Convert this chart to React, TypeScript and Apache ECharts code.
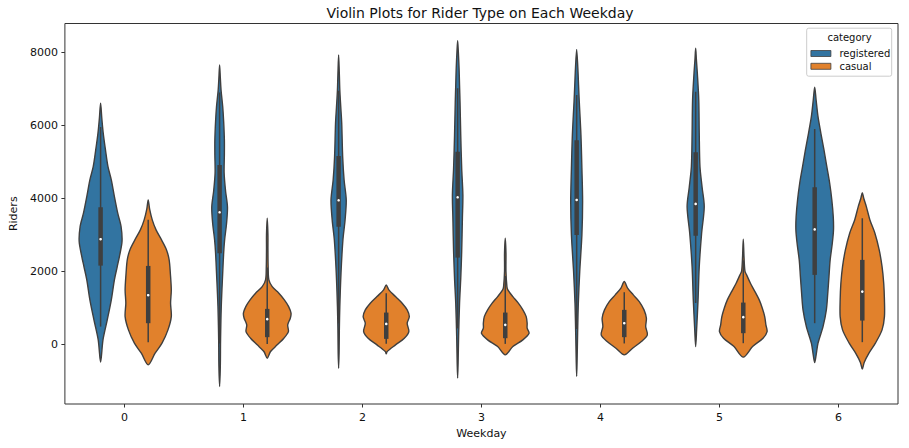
import { useEffect, useRef } from 'react'
import * as echarts from 'echarts'

const WEEKDAYS = ['0', '1', '2', '3', '4', '5', '6']
const Y_TICKS = [0, 2000, 4000, 6000, 8000]

// violin outlines: rider values and relative half widths (1 = widest violin)
const REG_Y = [
  [-493, 118, 666, 1214, 1762, 2127, 2401, 2812, 3225, 3590, 4047, 4504, 4866, 5300, 5786, 6200, 6603],
  [-1161, -600, 130, 1040, 1953, 2500, 2857, 3300, 3760, 4200, 4693, 5200, 5597, 6100, 6510, 6967, 7300, 7652],
  [-658, -200, 400, 1030, 1953, 2857, 3400, 3953, 4500, 5140, 6055, 6500, 6967, 7400, 7926],
  [-932, -500, 200, 1123, 1800, 2537, 3452, 4090, 4822, 5734, 6647, 7100, 7562, 8000, 8318],
  [-887, -400, 300, 1123, 2000, 2995, 3907, 4822, 5734, 6647, 7100, 7562, 8082],
  [-66, 400, 1214, 2126, 3041, 3770, 4300, 4866, 5781, 6693, 7425, 7800, 8110],
  [-504, -300, 27, 482, 940, 1397, 1852, 2310, 2767, 3132, 3496, 3953, 4411, 4866, 5323, 5781, 6236, 6693, 7041],
]
const REG_W = [
  [0, 0.1, 0.28, 0.45, 0.58, 0.7, 0.79, 0.9, 0.86, 0.72, 0.58, 0.45, 0.31, 0.21, 0.11, 0.05, 0],
  [0, 0.03, 0.04, 0.07, 0.13, 0.17, 0.21, 0.29, 0.33, 0.25, 0.19, 0.2, 0.2, 0.17, 0.13, 0.06, 0.03, 0],
  [0, 0.02, 0.03, 0.05, 0.1, 0.18, 0.27, 0.32, 0.23, 0.17, 0.13, 0.09, 0.05, 0.03, 0],
  [0, 0.02, 0.04, 0.08, 0.13, 0.17, 0.2, 0.22, 0.17, 0.13, 0.1, 0.08, 0.06, 0.03, 0],
  [0, 0.02, 0.04, 0.07, 0.13, 0.22, 0.25, 0.22, 0.18, 0.11, 0.08, 0.05, 0],
  [0, 0.04, 0.1, 0.15, 0.25, 0.36, 0.27, 0.18, 0.15, 0.13, 0.07, 0.03, 0],
  [0, 0.06, 0.14, 0.35, 0.49, 0.55, 0.6, 0.65, 0.74, 0.79, 0.78, 0.72, 0.63, 0.51, 0.39, 0.26, 0.14, 0.06, 0],
]
const CAS_Y = [
  [-567, -247, 27, 392, 756, 1123, 1488, 1945, 2310, 2584, 2858, 3132, 3406, 3700, 3954],
  [-384, -202, -19, 164, 345, 529, 712, 849, 1030, 1214, 1397, 1578, 1762, 2100, 2600, 3000, 3452],
  [-266, -202, -19, 164, 345, 575, 756, 940, 1123, 1304, 1488, 1625],
  [-293, -66, 118, 301, 438, 575, 756, 940, 1123, 1304, 1488, 1578, 2000, 2500, 2904],
  [-293, -110, 71, 255, 482, 712, 940, 1168, 1351, 1534, 1716],
  [-356, -66, 164, 345, 529, 756, 986, 1214, 1441, 1671, 1899, 2000, 2400, 2877],
  [-685, -500, -247, 27, 392, 756, 1214, 1671, 2126, 2584, 3041, 3405, 3770, 4000, 4153],
]
const CAS_W = [
  [0, 0.29, 0.58, 0.83, 0.97, 0.94, 0.97, 0.93, 0.88, 0.77, 0.56, 0.33, 0.17, 0.06, 0],
  [0, 0.14, 0.42, 0.7, 0.89, 0.86, 0.97, 1, 0.9, 0.72, 0.49, 0.21, 0.07, 0.04, 0.03, 0.03, 0],
  [0, 0.04, 0.39, 0.76, 0.95, 0.88, 0.97, 0.88, 0.67, 0.39, 0.11, 0],
  [0, 0.32, 0.74, 1, 0.92, 0.92, 0.88, 0.74, 0.55, 0.32, 0.11, 0.07, 0.03, 0.03, 0],
  [0, 0.35, 0.72, 0.97, 0.9, 0.93, 0.83, 0.63, 0.38, 0.14, 0],
  [0, 0.39, 0.83, 1, 0.95, 0.9, 0.8, 0.67, 0.49, 0.3, 0.14, 0.07, 0.03, 0],
  [0, 0.08, 0.28, 0.55, 0.83, 0.93, 0.93, 0.9, 0.83, 0.71, 0.53, 0.32, 0.17, 0.06, 0],
]

// inner box: whisker ends, quartiles and median
const REG_LO = [482, 20, 570, 432, 416, 1129, 575]
const REG_Q1 = [2153, 2493, 3222, 2373, 2995, 2975, 1899]
const REG_MED = [2877, 3616, 3945, 4027, 3953, 3844, 3145]
const REG_Q3 = [3753, 4912, 5159, 5277, 5589, 5260, 4301]
const REG_HI = [5950, 6900, 6946, 7014, 6830, 6917, 5900]

const CAS_LO = [55, 8, 9, 8, 20, 27, 55]
const CAS_Q1 = [575, 192, 145, 164, 192, 301, 647]
const CAS_MED = [1342, 685, 556, 529, 575, 740, 1441]
const CAS_Q3 = [2145, 967, 866, 866, 940, 1140, 2310]
const CAS_HI = [3410, 2100, 1397, 1870, 1424, 2300, 3452]

const BLUE = '#3274a1'
const ORANGE = '#e1812c'
const GRAY = '#3f3f3f'
const FONT = 'DejaVu Sans, sans-serif'

function violinRenderer(
  ys: number[][],
  ws: number[][],
  lo: number[],
  q1: number[],
  med: number[],
  q3: number[],
  hi: number[],
  offset: number,
  color: string,
) {
  return (_params: any, api: any) => {
    const i = api.value(0) as number
    const band = api.size([1, 0])[0] as number
    const cx = api.coord([i, 0])[0] + offset * band
    const maxHalf = 0.2 * band
    const yOf = (v: number) => api.coord([i, v])[1] as number

    const left: number[][] = []
    const right: number[][] = []
    ys[i].forEach((v, k) => {
      const y = yOf(v)
      left.push([cx - ws[i][k] * maxHalf, y])
      right.push([cx + ws[i][k] * maxHalf, y])
    })
    const points = left.concat(right.reverse().slice(1, -1))

    const yq1 = yOf(q1[i])
    const yq3 = yOf(q3[i])

    return {
      type: 'group',
      children: [
        {
          type: 'polygon',
          shape: { points, smooth: 0.3 },
          style: { fill: color, stroke: GRAY, lineWidth: 1.4 },
        },
        {
          type: 'line',
          shape: { x1: cx, y1: yOf(hi[i]), x2: cx, y2: yOf(lo[i]) },
          style: { stroke: GRAY, lineWidth: 1.5 },
        },
        {
          type: 'rect',
          shape: { x: cx - 2.25, y: yq3, width: 4.5, height: yq1 - yq3 },
          style: { fill: GRAY },
        },
        {
          type: 'circle',
          shape: { cx, cy: yOf(med[i]), r: 1.3 },
          style: { fill: '#ffffff' },
        },
      ],
    }
  }
}

export default function App() {
  const chartRef = useRef<HTMLDivElement>(null)

  useEffect(() => {
    if (!chartRef.current) return
    document.body.style.margin = '0'

    const chart = echarts.init(chartRef.current, undefined, { renderer: 'svg' })

    const option: echarts.EChartsOption = {
      animation: false,
      backgroundColor: '#ffffff',
      grid: {
        show: true,
        left: 61.5,
        right: 11,
        top: 23.5,
        bottom: 44,
        borderColor: '#333333',
        borderWidth: 1,
        backgroundColor: 'transparent',
      },
      graphic: [
        {
          type: 'text',
          x: 480,
          y: 12.5,
          style: {
            text: 'Violin Plots for Rider Type on Each Weekday',
            fill: '#111111',
            font: `14px ${FONT}`,
            align: 'center',
            verticalAlign: 'middle',
          },
        },
        {
          type: 'rect',
          z: 3,
          shape: { x: 806.7, y: 28.2, width: 85, height: 48, r: 2 },
          style: { fill: 'rgba(255,255,255,0.8)', stroke: '#cccccc', lineWidth: 1 },
        },
        {
          type: 'text',
          z: 4,
          x: 849.5,
          y: 37.5,
          style: {
            text: 'category',
            fill: '#111111',
            font: `10px ${FONT}`,
            align: 'center',
            verticalAlign: 'middle',
          },
        },
      ],
      legend: {
        z: 10,
        orient: 'vertical',
        left: 810.5,
        top: 47.5,
        padding: 0,
        itemWidth: 20,
        itemHeight: 6,
        itemGap: 0.8,
        icon: 'rect',
        itemStyle: { borderColor: GRAY, borderWidth: 0.8 },
        textStyle: {
          color: '#111111',
          fontSize: 10,
          fontFamily: FONT,
          lineHeight: 12,
          padding: [0, 0, 0, 3.5],
        },
        data: ['registered', 'casual'],
      },
      xAxis: {
        type: 'category',
        data: WEEKDAYS,
        boundaryGap: true,
        name: 'Weekday',
        nameLocation: 'middle',
        nameGap: 24,
        nameTextStyle: { color: '#111111', fontSize: 11, fontFamily: FONT },
        axisLine: { show: false, onZero: false },
        axisTick: { show: true, alignWithLabel: true, length: 3.5, lineStyle: { color: '#333333' } },
        axisLabel: { color: '#111111', fontSize: 11, fontFamily: FONT, margin: 8 },
        splitLine: { show: false },
      },
      yAxis: {
        type: 'value',
        min: -1640,
        max: 8790,
        name: 'Riders',
        nameLocation: 'middle',
        nameGap: 42,
        nameTextStyle: { color: '#111111', fontSize: 11, fontFamily: FONT },
        axisLine: { show: false, onZero: false },
        axisTick: {
          show: true,
          length: 3.5,
          lineStyle: { color: '#333333' },
          customValues: Y_TICKS,
        } as any,
        axisLabel: {
          color: '#111111',
          fontSize: 11,
          fontFamily: FONT,
          margin: 7,
          customValues: Y_TICKS,
          formatter: (v: number) => String(v),
        } as any,
        splitLine: { show: false },
      },
      series: [
        {
          name: 'registered',
          type: 'custom',
          clip: true,
          itemStyle: { color: BLUE },
          encode: { x: 0, y: 1 },
          data: WEEKDAYS.map((_, i) => [i, REG_MED[i]]),
          renderItem: violinRenderer(REG_Y, REG_W, REG_LO, REG_Q1, REG_MED, REG_Q3, REG_HI, -0.2, BLUE) as any,
        },
        {
          name: 'casual',
          type: 'custom',
          clip: true,
          itemStyle: { color: ORANGE },
          encode: { x: 0, y: 1 },
          data: WEEKDAYS.map((_, i) => [i, CAS_MED[i]]),
          renderItem: violinRenderer(CAS_Y, CAS_W, CAS_LO, CAS_Q1, CAS_MED, CAS_Q3, CAS_HI, 0.2, ORANGE) as any,
        },
      ],
    }

    chart.setOption(option)

    return () => {
      chart.dispose()
    }
  }, [])

  return <div ref={chartRef} style={{ width: '909px', height: '448px' }} />
}
